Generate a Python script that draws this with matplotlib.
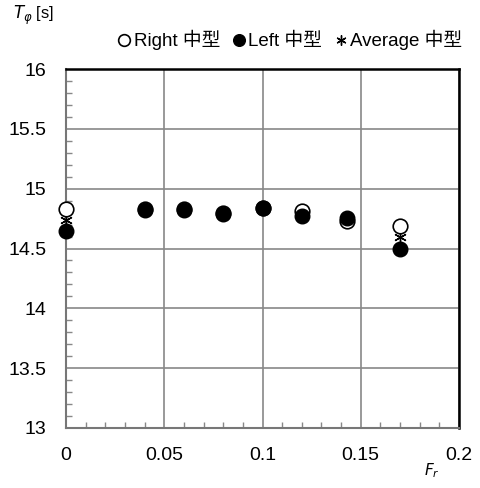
import matplotlib
matplotlib.use("Agg")
import matplotlib.pyplot as plt
from matplotlib.ticker import MultipleLocator

plt.rcParams['font.family'] = ['Liberation Sans', 'Noto Sans CJK SC', 'DejaVu Sans']

fr = [0.0, 0.04, 0.06, 0.08, 0.10, 0.12, 0.143, 0.17]
right = [14.83, 14.83, 14.83, 14.80, 14.84, 14.81, 14.73, 14.69]
left = [14.645, 14.82, 14.82, 14.79, 14.84, 14.77, 14.757, 14.50]
average = [14.74, 14.825, 14.825, 14.795, 14.84, 14.79, 14.745, 14.595]

labels = ['Right 中型', 'Left 中型', 'Average 中型']
xticks = [0, 0.05, 0.1, 0.15, 0.2]
yticks = [13, 13.5, 14, 14.5, 15, 15.5, 16]

fig = plt.figure(figsize=(4.8, 4.88), dpi=100)
ax = fig.add_axes([66/480, (488-428)/488, (459-66)/480, (428-69)/488])

ax.plot(fr, average, linestyle='none', marker=(6, 2, 0), markersize=9,
        markeredgecolor='black', markeredgewidth=1.0, color='black', label=labels[2],
        zorder=3, clip_on=False)
ax.plot(fr, right, linestyle='none', marker='o', markersize=10.5,
        markerfacecolor='white', markeredgecolor='black', markeredgewidth=1.2, label=labels[0],
        zorder=4, clip_on=False)
ax.plot(fr, left, linestyle='none', marker='o', markersize=10.5,
        markerfacecolor='black', markeredgecolor='black', label=labels[1],
        zorder=5, clip_on=False)

ax.set_xlim(0, 0.2)
ax.set_ylim(13, 16)
ax.set_xticks(xticks)
ax.set_xticklabels(['0', '0.05', '0.1', '0.15', '0.2'])
ax.set_yticks(yticks)
ax.set_yticklabels(['13', '13.5', '14', '14.5', '15', '15.5', '16'])
ax.xaxis.set_minor_locator(MultipleLocator(0.01))
ax.yaxis.set_minor_locator(MultipleLocator(0.1))
ax.grid(True, which='major', color='#888888', linewidth=1.2)
ax.set_axisbelow(True)
ax.tick_params(axis='both', which='major', length=0, labelsize=14)
ax.tick_params(axis='both', which='minor', direction='in', length=4, color='#888888', width=1)
ax.tick_params(axis='x', which='major', pad=14)
ax.tick_params(axis='y', which='major', pad=14)

for s in ['left', 'bottom']:
    ax.spines[s].set_color('#777777')
    ax.spines[s].set_linewidth(1.5)
for s in ['right', 'top']:
    ax.spines[s].set_color('black')
    ax.spines[s].set_linewidth(1.8)

handles, labs = ax.get_legend_handles_labels()
order = [1, 2, 0]
leg = fig.legend([handles[i] for i in order], [labs[i] for i in order],
                 loc='center right', bbox_to_anchor=(0.998, 0.918), ncol=3, frameon=False,
                 fontsize=13.5, handlelength=0.6, handletextpad=0.2, columnspacing=0.7,
                 markerscale=0.8)

fig.text(0.028, 0.968, r'$T_\varphi$ [s]', fontsize=12, ha='left', va='center')
fig.text(0.9, 0.035, r'$F_r$', fontsize=11, ha='center', va='center')

fig.savefig('out.png', dpi=100)
